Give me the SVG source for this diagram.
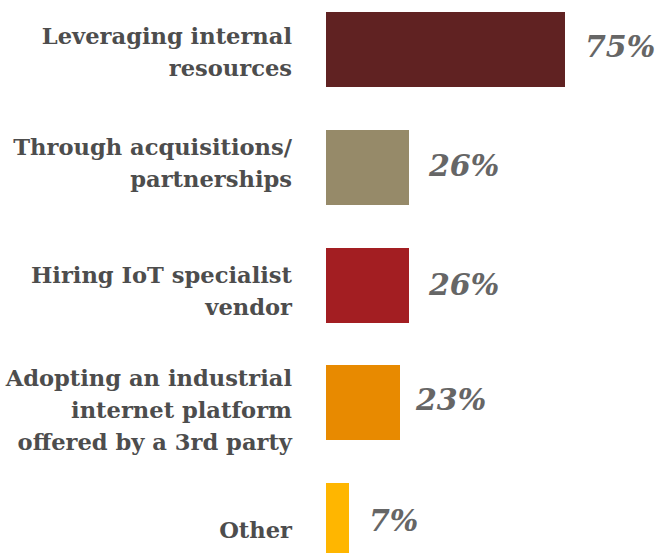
<svg xmlns="http://www.w3.org/2000/svg" width="658" height="553" viewBox="0 0 658 553">
<style>
.lbl{font-family:"DejaVu Serif","Liberation Serif",serif;font-weight:bold;font-size:22.6px;fill:#4d4d4d;text-anchor:end}
.pct{font-family:"DejaVu Serif","Liberation Serif",serif;font-weight:bold;font-style:italic;font-size:30px;fill:#666666}
</style>
<rect width="658" height="553" fill="#ffffff"/>
<g id="row1">
<text class="lbl" x="292" y="44">Leveraging internal</text>
<text class="lbl" x="292" y="76">resources</text>
<rect x="326" y="12" width="239" height="75" fill="#602222"/>
<text class="pct" x="585" y="57">75%</text>
</g>
<g id="row2">
<text class="lbl" x="292" y="155">Through acquisitions/</text>
<text class="lbl" x="292" y="187">partnerships</text>
<rect x="326" y="130" width="83" height="75" fill="#968a69"/>
<text class="pct" x="429" y="176">26%</text>
</g>
<g id="row3">
<text class="lbl" x="292" y="283">Hiring IoT specialist</text>
<text class="lbl" x="292" y="315">vendor</text>
<rect x="326" y="248" width="83" height="75" fill="#a31e22"/>
<text class="pct" x="429" y="295">26%</text>
</g>
<g id="row4">
<text class="lbl" x="292" y="386">Adopting an industrial</text>
<text class="lbl" x="292" y="418">internet platform</text>
<text class="lbl" x="292" y="450">offered by a 3rd party</text>
<rect x="326" y="365" width="74" height="75" fill="#e88a00"/>
<text class="pct" x="416" y="410">23%</text>
</g>
<g id="row5">
<text class="lbl" x="292" y="538">Other</text>
<rect x="326" y="483" width="23" height="70" fill="#ffb600"/>
<text class="pct" x="369" y="531">7%</text>
</g>
</svg>
